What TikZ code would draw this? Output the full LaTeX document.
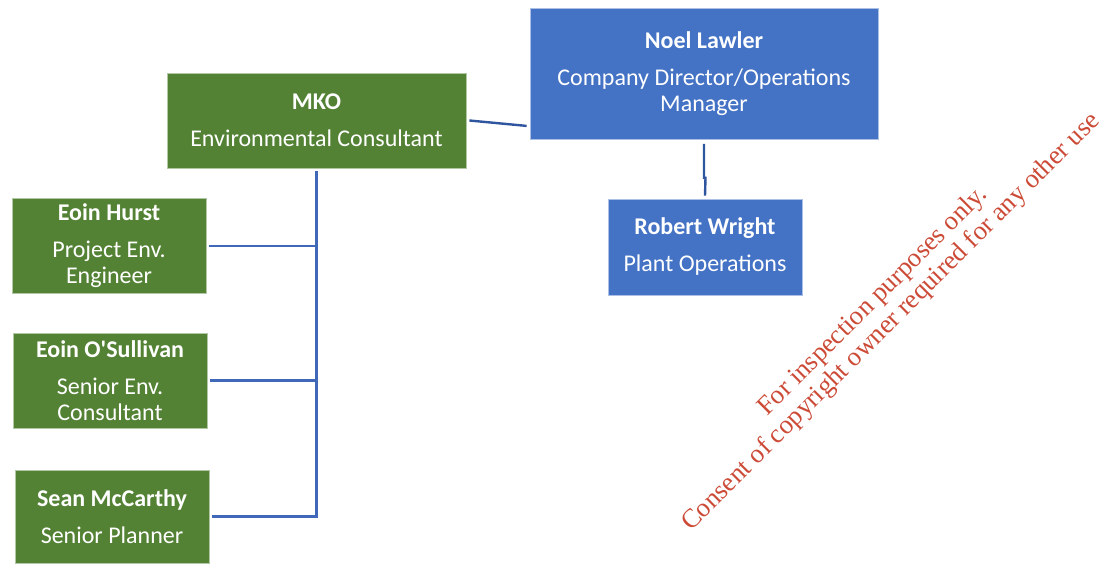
\documentclass[tikz,border=0pt]{standalone}
\usepackage{fontspec}
\setmainfont{Carlito}
\newfontfamily\wmfont{Liberation Serif}
\definecolor{boxgreen}{HTML}{548235}
\definecolor{boxblue}{HTML}{4472C4}
\definecolor{linkblue}{HTML}{4068B8}
\definecolor{linkdark}{HTML}{2F559F}
\definecolor{wmred}{HTML}{CC4B37}
\begin{document}
\begin{tikzpicture}[x=1pt,y=-1pt,
  orgbox/.style={rectangle, text=white, align=center, inner sep=0pt,
    font=\fontsize{24}{26}\selectfont, line width=0.8pt},
  greenbox/.style={orgbox, fill=boxgreen, draw=boxgreen!45!white},
  bluebox/.style={orgbox, fill=boxblue, draw=boxblue!45!white},
  link/.style={draw=linkblue, line width=2.4pt},
  darklink/.style={draw=linkdark, line width=2.4pt},
  wmtext/.style={text=wmred, font=\wmfont\fontsize{26.6}{30}\selectfont,
    rotate=45, anchor=base, inner sep=0pt}]
\useasboundingbox (0,0) rectangle (1101,563);

\node[bluebox, minimum width=348pt, minimum height=131pt] (noel) at (704,74)
  {\textbf{Noel Lawler}\\[11pt]Company Director/Operations\\Manager};
\node[greenbox, minimum width=299pt, minimum height=95pt] (mko) at (316.5,120.5)
  {\textbf{MKO}\\[11pt]Environmental Consultant};
\node[bluebox, minimum width=194pt, minimum height=96pt] (robert) at (705,247)
  {\textbf{Robert Wright}\\[11pt]Plant Operations};
\node[greenbox, minimum width=194pt, minimum height=95pt] (hurst) at (109,246)
  {\textbf{Eoin Hurst}\\[11pt]Project Env.\\Engineer};
\node[greenbox, minimum width=194pt, minimum height=95pt] (osull) at (110,380.5)
  {\textbf{Eoin O\textquotesingle Sullivan}\\[11pt]Senior Env.\\Consultant};
\node[greenbox, minimum width=194pt, minimum height=93pt] (sean) at (112,516.5)
  {\textbf{Sean McCarthy}\\[11pt]Senior Planner};

% connectors
\draw[darklink] ([xshift=3pt]mko.east) -- ([xshift=-3pt,yshift=14pt]noel.south west);
\coordinate (jogtop) at ([yshift=-38pt]noel.south);
\coordinate (jogbot) at ([yshift=-38pt,xshift=1.5pt]noel.south);
\draw[darklink] ([yshift=-4pt]noel.south) -- (jogtop) -- (jogbot) -- ([yshift=3pt]robert.north);
\coordinate (trunkbot) at (mko.south |- sean.east);
\draw[link] ([yshift=-3pt]mko.south) -- ([yshift=-1.2pt]trunkbot);
\draw[link] ([xshift=3pt]hurst.east) -- (mko.south |- hurst.east);
\draw[link] ([xshift=3pt]osull.east) -- (mko.south |- osull.east);
\draw[link] ([xshift=3pt]sean.east) -- (trunkbot);

% watermark
\node[wmtext] (wm1) at (878,306) {For inspection purposes only.};
\node[wmtext] (wm2) at (896,327) {Consent of copyright owner required for any other use};
\end{tikzpicture}
\end{document}
